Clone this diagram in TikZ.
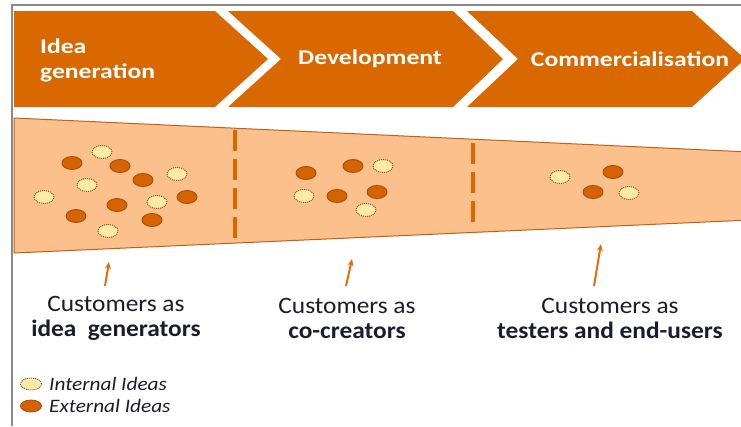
\documentclass[tikz,border=0pt]{standalone}
\usepackage{fontspec}
\setmainfont{Carlito}
\newfontfamily\stagefont{Carlito}[FakeStretch=1.22]
\newfontfamily\rolefont{Carlito}[FakeStretch=1.08]
\newfontfamily\legendfont{Carlito}[FakeStretch=1.12]
\usetikzlibrary{shapes.geometric,arrows.meta}
\definecolor{stageorange}{HTML}{DA6800}
\definecolor{funnelfill}{HTML}{FCC08C}
\definecolor{funneledge}{HTML}{C0601A}
\definecolor{extfill}{HTML}{D66200}
\definecolor{extedge}{HTML}{A04A08}
\definecolor{intfill}{HTML}{FCEAA8}
\definecolor{intedge}{HTML}{8A5424}
\definecolor{arroworange}{HTML}{E0700F}
\definecolor{textnavy}{HTML}{1C1C30}
\definecolor{framegray}{HTML}{8A8A8A}
\tikzset{
  stage/.style={fill=stageorange, draw=none},
  stagetext/.style={text=white, font=\stagefont\fontsize{21}{25}\selectfont\bfseries, inner sep=0pt},
  extidea/.style={ellipse, fill=extfill, draw=extedge, line width=0.8pt, minimum width=20pt, minimum height=13pt, inner sep=0pt},
  intidea/.style={ellipse, fill=intfill, draw=intedge, densely dotted, line width=1pt, minimum width=20pt, minimum height=13pt, inner sep=0pt},
  divider/.style={draw=stageorange, line width=3.5pt, dash pattern=on 21pt off 8pt},
  rolearrow/.style={draw=arroworange, line width=2pt, -{Stealth[length=7pt,width=6pt]}},
  roletext/.style={text=textnavy, align=center, font=\rolefont\fontsize{23.5}{25}\selectfont, inner sep=0pt},
  legendtext/.style={text=textnavy, font=\legendfont\fontsize{19}{22}\selectfont\itshape, inner sep=0pt}
}
\begin{document}
\begin{tikzpicture}[x=1pt,y=-1pt]
      \useasboundingbox (0,0) rectangle (741,426);
      \draw[framegray, line width=2pt] (12,426) -- (12,5) -- (741,5);

      \fill[stage] (14,11) -- (215,11) -- (268,59) -- (215,107) -- (14,107) -- cycle;
      \fill[stage] (228,11) -- (453,11) -- (503,59) -- (453,107) -- (228,107) -- (281,59) -- cycle;
      \fill[stage] (467,11) -- (692,11) -- (745,59) -- (692,107) -- (467,107) -- (518,59) -- cycle;
      \node[stagetext, anchor=west, align=left] (stage1) at (40,60) {Idea\\generation};
      \node[stagetext] (stage2) at (370,59) {Development};
      \node[stagetext] (stage3) at (630,59) {Commercialisation};

      \filldraw[fill=funnelfill, draw=funneledge, line width=1pt] (14,118) -- (750,152) -- (750,220) -- (14,253) -- cycle;
      \draw[divider] (235,130) -- (235,242);
      \draw[divider] (473,143) -- (473,226);

      \node[extidea] (ext1) at (72,163){};
      \node[extidea] (ext2) at (120,166){};
      \node[extidea] (ext3) at (143,180){};
      \node[extidea] (ext4) at (187,197){};
      \node[extidea] (ext5) at (117,205){};
      \node[extidea] (ext6) at (76,216){};
      \node[extidea] (ext7) at (152,220){};
      \node[intidea] (int1) at (102,152){};
      \node[intidea] (int2) at (177,174){};
      \node[intidea] (int3) at (87,185){};
      \node[intidea] (int4) at (44,197){};
      \node[intidea] (int5) at (157,202){};
      \node[intidea] (int6) at (108,231){};

      \node[extidea] (ext8) at (306,173){};
      \node[extidea] (ext9) at (353,166){};
      \node[extidea] (ext10) at (337,196){};
      \node[extidea] (ext11) at (377,192){};
      \node[intidea] (int7) at (304,196){};
      \node[intidea] (int8) at (383,166){};
      \node[intidea] (int9) at (366,210){};

      \node[intidea] (int10) at (560,177){};
      \node[extidea] (ext12) at (613,172){};
      \node[extidea] (ext13) at (593,192){};
      \node[intidea] (int11) at (629,193){};

      \coordinate (r1a) at (105,286);
      \coordinate (r1b) at (109,262);
      \coordinate (r2a) at (346,286);
      \coordinate (r2b) at (352,259);
      \coordinate (r3a) at (594,286);
      \coordinate (r3b) at (601,244);
      \draw[rolearrow] (r1a) -- (r1b);
      \draw[rolearrow] (r2a) -- (r2b);
      \draw[rolearrow] (r3a) -- (r3b);

      \node[roletext] (role1) at (116,318) {Customers as\\\textbf{idea\ \ generators}};
      \node[roletext] (role2) at (347,318) {Customers as\\\textbf{co-creators}};
      \node[roletext] (role3) at (610,318) {Customers as\\\textbf{testers and end-users}};

      \node[intidea, minimum width=21pt, minimum height=12pt] (legint) at (31,384){};
      \node[extidea, minimum width=21pt, minimum height=12pt] (legext) at (31,406){};
      \node[legendtext, anchor=west] (legintlbl) at (49,384) {Internal Ideas};
      \node[legendtext, anchor=west] (legextlbl) at (49,406) {External Ideas};

    \end{tikzpicture}
\end{document}
